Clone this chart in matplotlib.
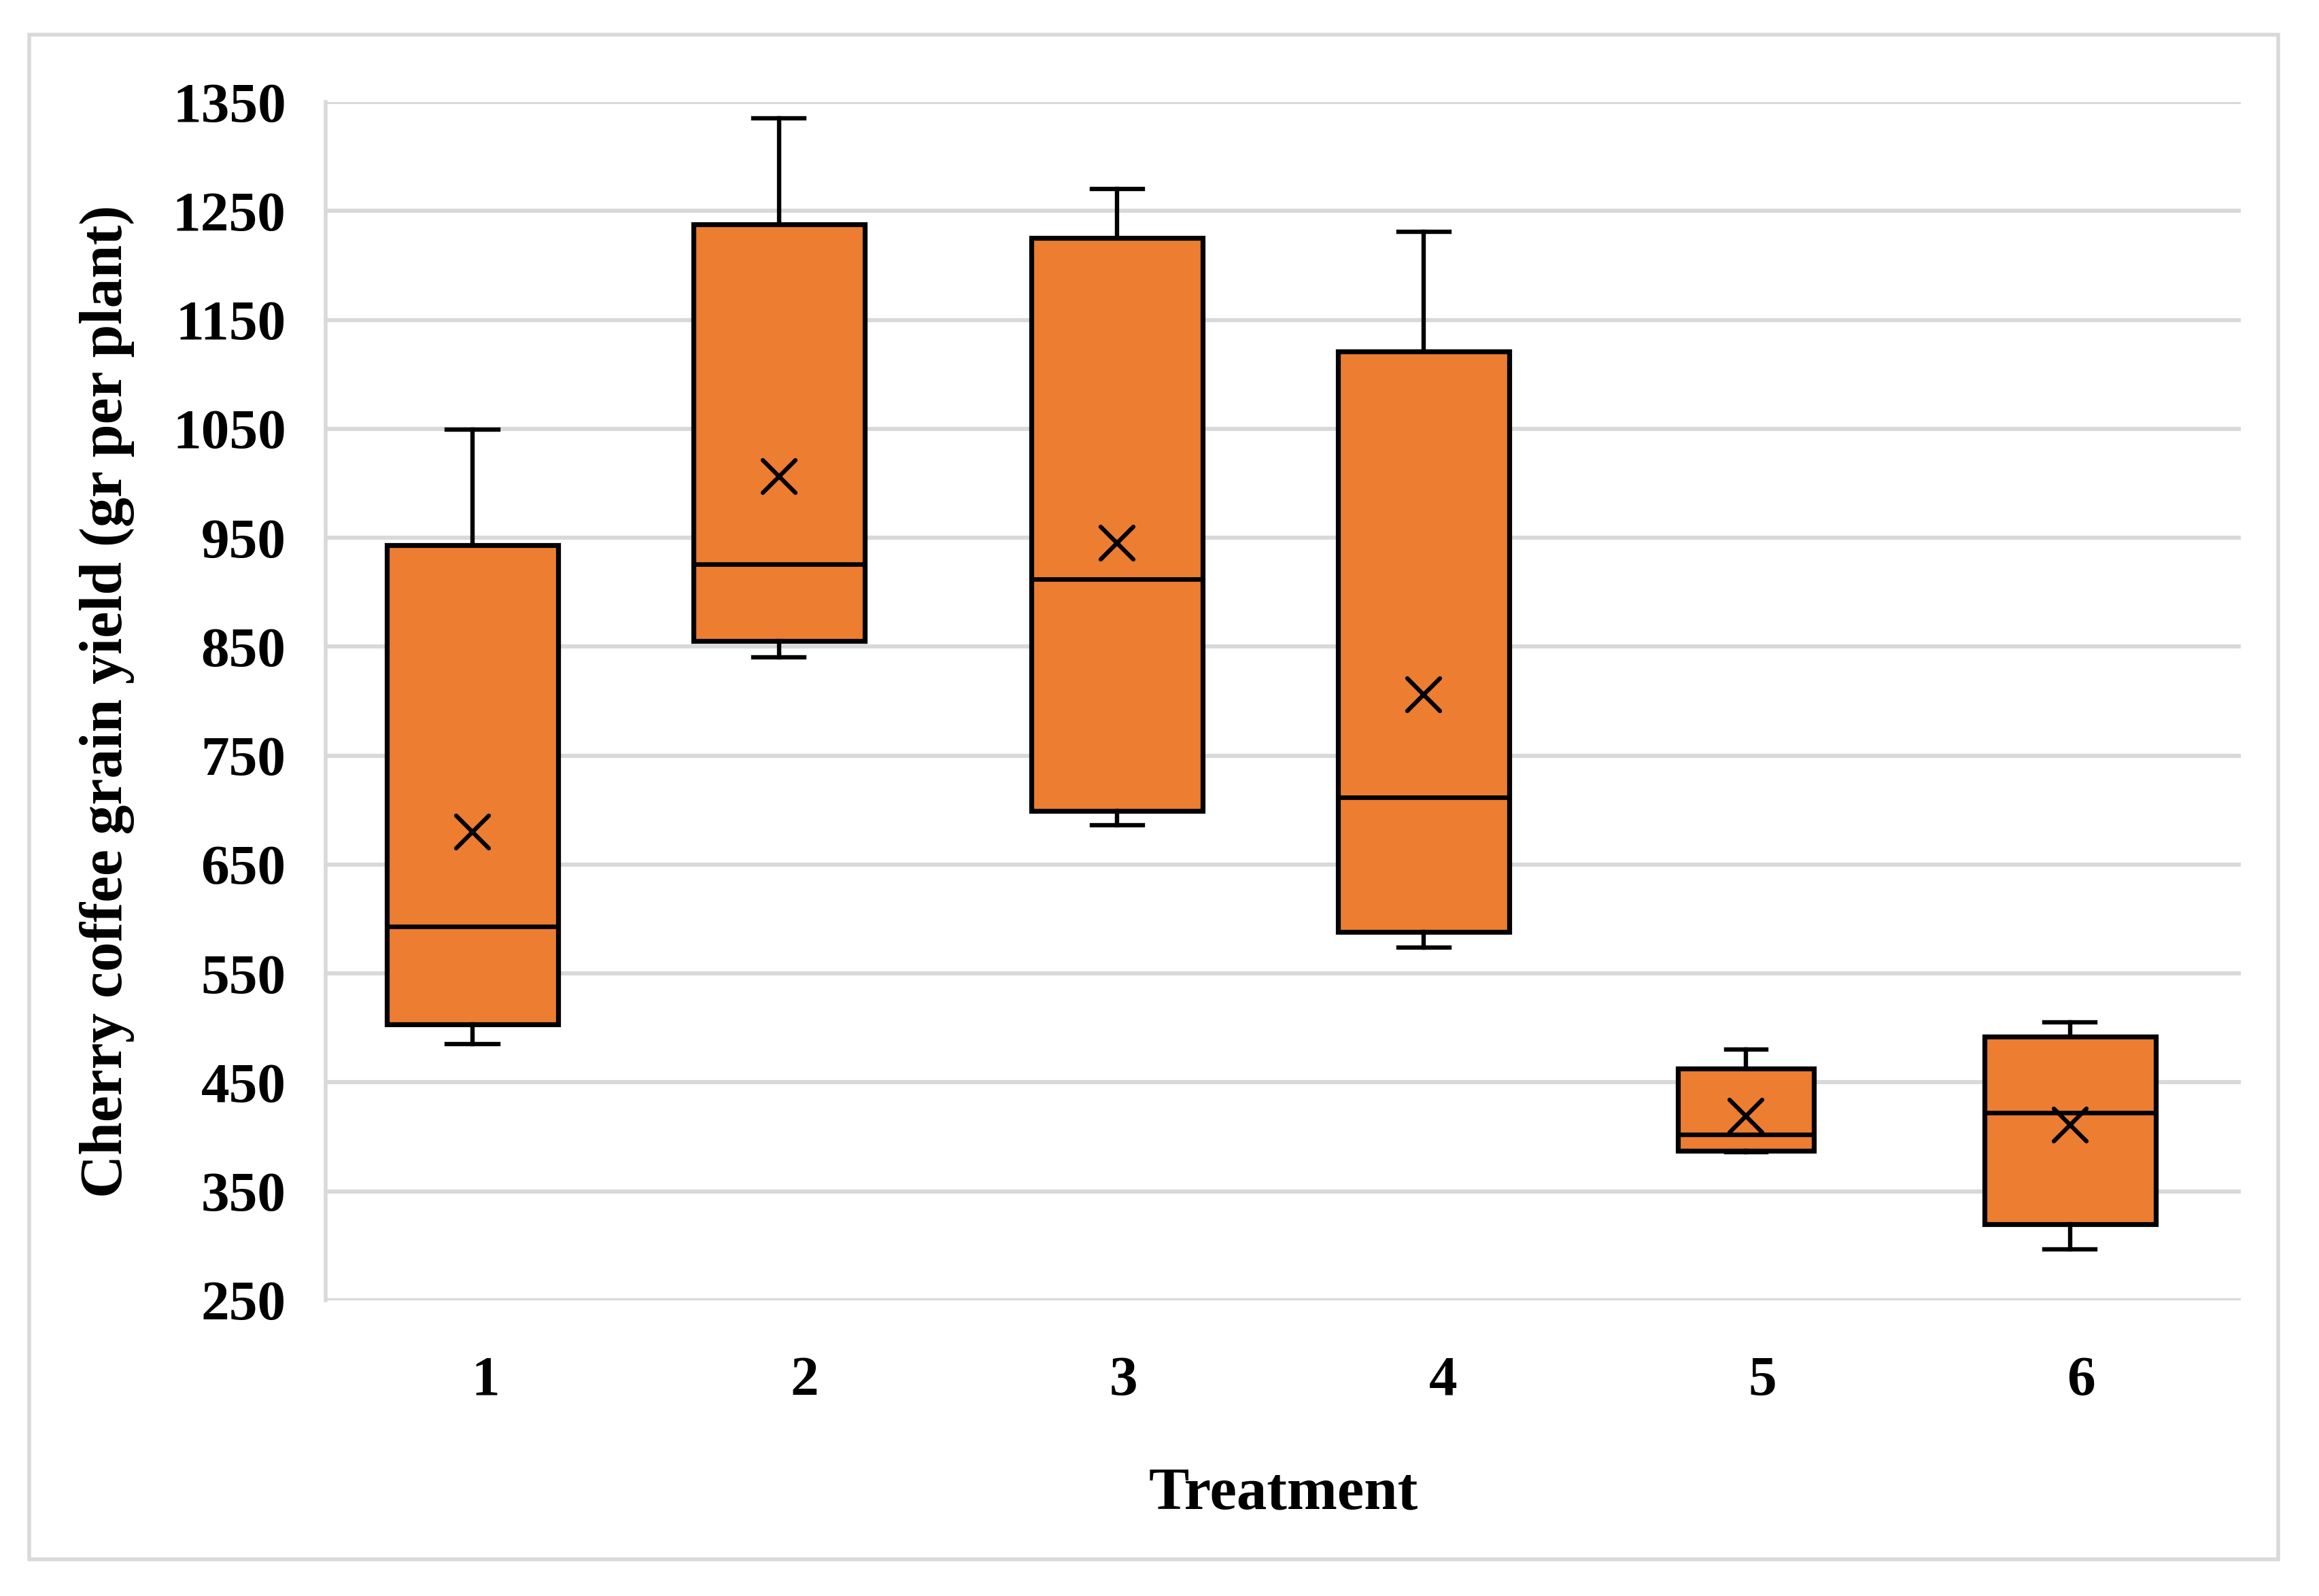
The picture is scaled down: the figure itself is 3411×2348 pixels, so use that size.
import numpy as np
import matplotlib.pyplot as plt
from matplotlib.patches import Rectangle
from matplotlib.markers import MarkerStyle

# Box-plot statistics per treatment (gr per plant)
treatments = ['1', '2', '3', '4', '5', '6']
whisker_low = [485, 840, 686, 574, 386, 297]
q1 = [503, 855, 699, 588, 387, 320]
median = [593, 926, 912, 712, 402, 422]
q3 = [943, 1238, 1225, 1121, 463, 492]
whisker_high = [1049, 1335, 1270, 1231, 480, 505]
mean = [680, 1006, 945, 806, 419, 411]

y_ticks = list(range(250, 1351, 100))

# layout (Excel shifts the boxes slightly left of the category centre)
offsets = [-0.04, -0.08, -0.02, -0.06, -0.05, -0.035]
widths = [0.537, 0.537, 0.537, 0.537, 0.426, 0.537]
capwidths = [0.16, 0.16, 0.16, 0.16, 0.126, 0.16]

plt.rcParams['font.family'] = ['Liberation Serif', 'DejaVu Serif']
plt.rcParams['font.weight'] = 'bold'

fig = plt.figure(figsize=(34.12, 23.48), dpi=100)
ax = fig.add_axes([0.1404, 0.1853, 0.9660 - 0.1404, 0.9361 - 0.1853])

# outer chart border
fig.patches.append(Rectangle((0.0126, 0.0230), 0.9821 - 0.0126, 0.9783 - 0.0230,
                             transform=fig.transFigure, fill=False,
                             edgecolor='#D9D9D9', linewidth=4.0, zorder=0))

stats = []
for i in range(len(treatments)):
    stats.append(dict(label=treatments[i], whislo=whisker_low[i], q1=q1[i],
                      med=median[i], q3=q3[i], whishi=whisker_high[i],
                      mean=mean[i], fliers=[]))

xmark = MarkerStyle('x', capstyle='round')
pos = np.arange(1, len(treatments) + 1) + np.array(offsets)
ax.bxp(stats, positions=pos, widths=widths, capwidths=capwidths,
       patch_artist=True, showmeans=True, manage_ticks=False,
       boxprops=dict(facecolor='#ED7D31', edgecolor='black', linewidth=5.2),
       medianprops=dict(color='black', linewidth=4.8),
       whiskerprops=dict(color='black', linewidth=4.6),
       capprops=dict(color='black', linewidth=4.6),
       meanprops=dict(marker=xmark, markersize=35, markeredgecolor='black',
                      markeredgewidth=4.5, linestyle='none'),
       zorder=3)

ax.set_xlim(0.5, len(treatments) + 0.5)
ax.set_ylim(250, 1350)
ax.set_xticks(np.arange(1, len(treatments) + 1))
ax.set_xticklabels(treatments)
ax.set_yticks(y_ticks)
ax.tick_params(axis='both', length=0, labelsize=60)
ax.tick_params(axis='y', pad=42)
ax.tick_params(axis='x', pad=59)

ax.yaxis.grid(True, color='#D9D9D9', linewidth=4.4)
ax.set_axisbelow(True)
for s in ['top', 'right', 'bottom']:
    ax.spines[s].set_visible(False)
ax.spines['left'].set_color('#D9D9D9')
ax.spines['left'].set_linewidth(4.0)

ax.set_xlabel('Treatment', fontsize=64, fontweight='bold', labelpad=63)
ax.set_ylabel('Cherry coffee grain yield (gr per plant)', fontsize=63,
              fontweight='bold', labelpad=40)

fig.savefig('out.png', dpi=100)
